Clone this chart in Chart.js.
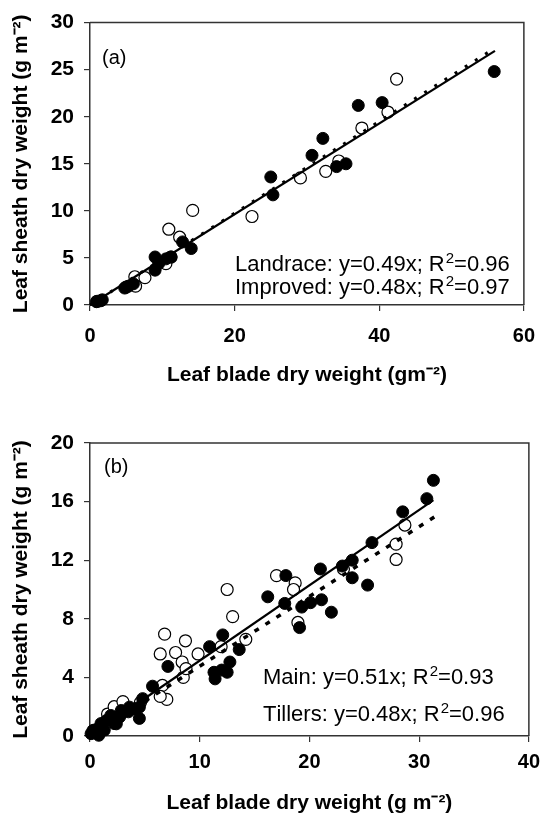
<!DOCTYPE html>
<html><head><meta charset="utf-8">
<script src="https://cdn.jsdelivr.net/npm/chart.js@4"></script>
<style>
html,body{margin:0;padding:0;background:#fff;}
#wrapA{position:absolute;left:0;top:0;width:548px;height:400px;}
#wrapB{position:absolute;left:0;top:400px;width:548px;height:418px;}
</style></head><body>
<div id="wrapA"><canvas id="chartA" width="548" height="400"></canvas></div>
<div id="wrapB"><canvas id="chartB" width="548" height="418"></canvas></div>
<script>
// ---------- Panel (a) data ----------
const landraceX = [0.9, 1.5, 1.7, 4.8, 5.3, 6.0, 9.0, 9.0, 9.5, 10.5, 11.2, 12.8, 14.0, 25.0, 25.3, 30.7, 32.2, 34.1, 35.4, 37.1, 40.4, 55.9];
const landraceY = [0.35, 0.45, 0.55, 1.8, 2.0, 2.25, 5.1, 3.7, 4.4, 4.9, 5.1, 6.7, 6.0, 13.6, 11.7, 15.9, 17.7, 14.7, 15.0, 21.2, 21.5, 24.8];
const improvedX = [1.0, 5.0, 6.2, 6.3, 7.6, 10.5, 11.2, 10.9, 12.4, 14.2, 22.4, 29.1, 32.6, 34.4, 37.6, 41.2, 42.4];
const improvedY = [0.4, 1.9, 3.0, 2.0, 2.9, 4.4, 5.1, 8.05, 7.2, 10.05, 9.4, 13.5, 14.2, 15.3, 18.8, 20.5, 24.0];
const landraceFitX = [0, 56];
const landraceFitY = [0, 27.3];
const improvedFitX = [0, 56];
const improvedFitY = [0, 27.0];
const panelATicksX = [0, 20, 40, 60];
const panelATicksY = [0, 5, 10, 15, 20, 25, 30];
const panelALabel = '(a)';
const panelAText = ['Landrace: y=0.49x; R^2=0.96', 'Improved: y=0.48x; R^2=0.97'];
const panelAXTitle = 'Leaf blade dry weight (gm\u207B\u00B2)';
const panelAYTitle = 'Leaf sheath dry weight (g m\u207B\u00B2)';

// ---------- Panel (b) data ----------
const mainX = [0.1, 0.27, 0.35, 0.8, 0.88, 1.0, 1.3, 1.5, 1.9, 2.2, 2.24, 2.4, 2.7, 2.85, 3.5, 3.6, 4.1, 4.5, 4.5, 4.8, 5.7, 7.1, 10.9, 12.1, 11.3, 11.4, 12.0, 12.5, 12.75, 13.6, 16.2, 17.85, 17.75, 19.3, 19.1, 20.1, 21.1, 21.0, 22.0, 23.0, 23.9, 23.9, 25.3, 25.7, 28.5, 30.7, 31.3];
const mainY = [0.16, 0.37, 0.4, 0.05, 0.6, 0.85, 0.4, 1.06, 1.4, 0.85, 1.28, 0.83, 1.3, 1.74, 1.65, 1.97, 1.85, 1.2, 1.97, 2.55, 3.4, 4.75, 6.1, 6.9, 4.35, 3.9, 4.5, 4.35, 5.05, 5.9, 9.5, 10.95, 9.05, 8.8, 7.4, 9.1, 9.3, 11.4, 8.45, 11.6, 10.8, 12.0, 10.3, 13.2, 15.3, 16.2, 17.45];
const tillersX = [1.6, 2.2, 3.0, 4.6, 6.4, 6.8, 6.6, 7.0, 6.4, 7.8, 8.4, 8.7, 8.5, 8.75, 9.85, 11.95, 12.5, 13.0, 14.2, 17.0, 18.7, 18.55, 18.95, 23.1, 27.9, 27.9, 28.7];
const tillersY = [1.5, 2.0, 2.35, 2.3, 5.6, 6.95, 3.45, 2.5, 2.7, 5.7, 5.05, 6.5, 4.0, 4.6, 5.6, 6.1, 10.0, 8.15, 6.6, 10.95, 10.45, 10.0, 7.75, 11.4, 13.1, 12.05, 14.4];
const mainFitX = [0, 31.3];
const mainFitY = [0, 16.1];
const tillersFitX = [0, 31.7];
const tillersFitY = [0, 15.1];
const panelBTicksX = [0, 10, 20, 30, 40];
const panelBTicksY = [0, 4, 8, 12, 16, 20];
const panelBLabel = '(b)';
const panelBText = ['Main: y=0.51x; R^2=0.93', 'Tillers: y=0.48x; R^2=0.96'];
const panelBXTitle = 'Leaf blade dry weight (g m\u207B\u00B2)';
const panelBYTitle = 'Leaf sheath dry weight (g m\u207B\u00B2)';

const FONT = '"Liberation Sans", Arial, Helvetica, sans-serif';
const AXIS_COLOR = '#333';

function pts(xs, ys) { return xs.map((x, i) => ({x: x, y: ys[i]})); }

function drawRich(ctx, text, x, y, size) {
  let cx = x;
  ctx.textAlign = 'left';
  ctx.textBaseline = 'alphabetic';
  for (let i = 0; i < text.length; i++) {
    const ch = text[i];
    if (ch === '^' && i + 1 < text.length) {
      const sup = text[i + 1];
      ctx.font = Math.round(size * 0.68) + 'px ' + FONT;
      cx += 1;
      ctx.fillText(sup, cx, y - size * 0.38);
      cx += ctx.measureText(sup).width;
      i++;
    } else {
      ctx.font = size + 'px ' + FONT;
      ctx.fillText(ch, cx, y);
      cx += ctx.measureText(ch).width;
    }
  }
}

function makePanel(canvasId, o) {
  const framePlugin = {
    id: 'frame_' + canvasId,
    afterDraw(chart) {
      const a = chart.chartArea, ctx = chart.ctx;
      ctx.save();
      ctx.strokeStyle = AXIS_COLOR;
      ctx.lineWidth = 1.5;
      ctx.beginPath();
      ctx.moveTo(a.left, a.top);
      ctx.lineTo(a.right, a.top);
      ctx.lineTo(a.right, a.bottom);
      ctx.stroke();
      ctx.fillStyle = '#000';
      ctx.font = '20px ' + FONT;
      ctx.textAlign = 'left';
      ctx.textBaseline = 'alphabetic';
      ctx.fillText(o.label, a.left + o.labelDx, a.top + o.labelDy);
      o.text.forEach((t, i) => {
        drawRich(ctx, t, a.left + o.textDx, a.bottom - o.textDy[i], 22);
      });
      ctx.restore();
    }
  };
  return new Chart(document.getElementById(canvasId), {
    type: 'scatter',
    data: {
      datasets: [
        {label: o.solidName, data: pts(o.solidX, o.solidY), showLine: true, pointRadius: 0, borderColor: '#000', borderWidth: 2.2, fill: false, clip: false},
        {label: o.dotName, data: pts(o.dotX, o.dotY), showLine: true, pointRadius: 0, borderColor: '#000', borderWidth: o.dotWidth, borderDash: o.dash, fill: false, clip: false},
        {label: o.filledName, data: pts(o.filledX, o.filledY), showLine: false, pointRadius: 6, pointHoverRadius: 6, backgroundColor: '#000', borderColor: '#000', borderWidth: 1, clip: false},
        {label: o.openName, data: pts(o.openX, o.openY), showLine: false, pointRadius: 6, pointHoverRadius: 6, backgroundColor: '#fff', borderColor: '#000', borderWidth: 1.2, clip: false}
      ]
    },
    options: {
      responsive: false,
      animation: false,
      devicePixelRatio: 1,
      layout: {padding: {top: o.padTop, right: o.padRight, left: 0, bottom: 0}},
      plugins: {legend: {display: false}, tooltip: {enabled: false}},
      scales: {
        x: {
          type: 'linear', position: 'bottom', min: o.xTicks[0], max: o.xTicks[o.xTicks.length - 1],
          afterBuildTicks: s => { s.ticks = o.xTicks.map(v => ({value: v})); },
          ticks: {color: '#000', font: {family: FONT, size: 20, weight: 'bold'}, padding: o.xTickPad, maxRotation: 0, autoSkip: false},
          grid: {display: true, drawOnChartArea: false, drawTicks: true, tickLength: 6, color: AXIS_COLOR, lineWidth: 1.2},
          border: {display: true, color: AXIS_COLOR, width: 1.5},
          title: {display: true, text: o.xTitle, color: '#000', font: {family: FONT, size: 21, weight: 'bold'}, padding: {top: 0, bottom: o.xTitlePad}},
          afterFit: s => { s.height = o.xAxisH; }
        },
        y: {
          type: 'linear', position: 'left', min: o.yTicks[0], max: o.yTicks[o.yTicks.length - 1],
          afterBuildTicks: s => { s.ticks = o.yTicks.map(v => ({value: v})); },
          ticks: {color: '#000', font: {family: FONT, size: 21, weight: 'bold'}, padding: 10, autoSkip: false},
          grid: {display: true, drawOnChartArea: false, drawTicks: true, tickLength: 6, color: AXIS_COLOR, lineWidth: 1.2},
          border: {display: true, color: AXIS_COLOR, width: 1.5},
          title: {display: true, text: o.yTitle, color: '#000', font: {family: FONT, size: 21, weight: 'bold'}, padding: {top: 9, bottom: 0}},
          afterFit: s => { s.width = 90; }
        }
      }
    },
    plugins: [framePlugin]
  });
}

makePanel('chartA', {
  solidName: 'Improved fit', solidX: improvedFitX, solidY: improvedFitY,
  dotName: 'Landrace fit', dotX: landraceFitX, dotY: landraceFitY, dotWidth: 3, dash: [3, 9],
  filledName: 'Landrace', filledX: landraceX, filledY: landraceY,
  openName: 'Improved', openX: improvedX, openY: improvedY,
  xTicks: panelATicksX, yTicks: panelATicksY,
  xTitle: panelAXTitle, yTitle: panelAYTitle,
  padTop: 15, padRight: 16, xAxisH: 95, xTickPad: 13, xTitlePad: 12,
  label: panelALabel, labelDx: 12, labelDy: 41,
  text: panelAText, textDx: 145, textDy: [34, 11]
});

makePanel('chartB', {
  solidName: 'Main fit', solidX: mainFitX, solidY: mainFitY,
  dotName: 'Tillers fit', dotX: tillersFitX, dotY: tillersFitY, dotWidth: 3.5, dash: [5, 8],
  filledName: 'Main', filledX: mainX, filledY: mainY,
  openName: 'Tillers', openX: tillersX, openY: tillersY,
  xTicks: panelBTicksX, yTicks: panelBTicksY,
  xTitle: panelBXTitle, yTitle: panelBYTitle,
  padTop: 43, padRight: 16, xAxisH: 82, xTickPad: 8, xTitlePad: 2,
  label: panelBLabel, labelDx: 14, labelDy: 30,
  text: panelBText, textDx: 173, textDy: [52, 15]
});
</script>
</body></html>
